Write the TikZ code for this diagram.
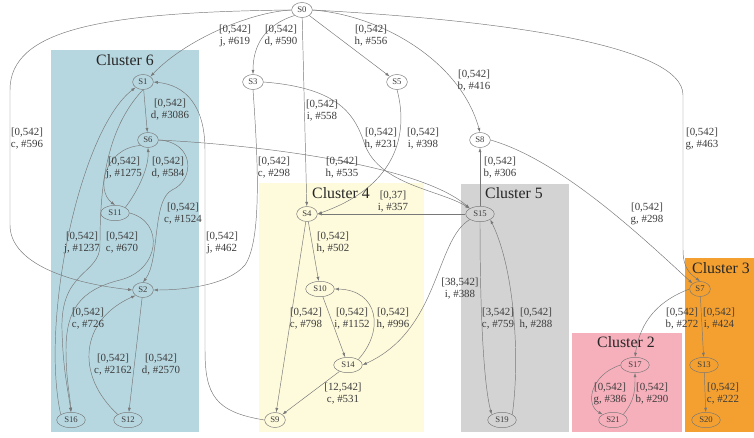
\documentclass[tikz,border=0pt]{standalone}
\usepackage{fontspec}
\setmainfont{Liberation Serif}
\usetikzlibrary{shapes, arrows.meta, positioning}

\definecolor{clblue}{RGB}{183,215,224}
\definecolor{clyellow}{RGB}{254,250,220}
\definecolor{clgray}{RGB}{211,211,211}
\definecolor{clpink}{RGB}{246,176,188}
\definecolor{clorange}{RGB}{244,160,48}
\definecolor{edgegray}{RGB}{120,120,120}
\definecolor{txtgray}{RGB}{60,60,60}

\begin{document}
\begin{tikzpicture}[x=0.3mm, y=-0.3mm, >={Latex[length=1.3mm, width=0.9mm]},
    state/.style={ellipse, draw=edgegray, line width=0.4pt, text=txtgray, inner sep=0pt,
      minimum width=6.2mm, minimum height=4.5mm, font=\fontsize{7.4}{8}\selectfont},
    wide/.style={state, minimum width=8.6mm, minimum height=4.6mm},
    lbl/.style={align=center, text=txtgray, inner sep=0pt, font=\fontsize{9.3}{10.2}\selectfont},
    ctitle/.style={text=black!85, inner sep=0pt, font=\fontsize{13.5}{15}\selectfont},
    conn/.style={->, draw=edgegray, line width=0.4pt}]
    \useasboundingbox (0,0) rectangle (754,437);

    % clusters
    \fill[clblue]   (51,50)   rectangle (199,432);
    \fill[clyellow] (259,183) rectangle (424,432);
    \fill[clgray]   (461,184) rectangle (569,432);
    \fill[clpink]   (572,333) rectangle (682,432);
    \fill[clorange] (685,258) rectangle (754,432);
    \node[ctitle] (cl6) at (125,60)  {Cluster 6};
    \node[ctitle] (cl4) at (341,193) {Cluster 4};
    \node[ctitle] (cl5) at (514,193) {Cluster 5};
    \node[ctitle] (cl2) at (626,342) {Cluster 2};
    \node[ctitle] (cl3) at (721,268) {Cluster 3};

    % states
    \foreach \n/\x/\y in {0/302/10, 1/143/82, 3/253/82, 5/397/82, 8/480/140, 6/148/140,
        2/143/290, 4/307/214, 9/275/420, 7/700/289} {
      \node[state] (s\n) at (\x,\y) {S\n};
    };
    \foreach \n/\x/\y in {11/115/213, 16/71/420, 12/128/420, 15/480/214, 10/320/289,
        14/348/365, 19/502/420, 17/635/365, 13/704/365, 21/613/420, 20/706/420} {
      \node[wide] (s\n) at (\x,\y) {S\n};
    };

    % edges out of S0
    \draw[conn] (s0.west) .. controls (250,12) and (185,40) .. (s1.north east);
    \draw[conn] (s0.south west) .. controls (265,25) and (253,45) .. (s3.north);
    \draw[conn] (s0) -- (s4);
    \draw[conn] (s0) -- (s5);
    \draw[conn] (s0.east) .. controls (380,15) and (460,60) .. (s8.north);
    \draw[conn] (s0.east) .. controls (500,20) and (683,45) .. (683,95) -- (683,250)
      .. controls (683,270) and (692,275) .. (s7.north);
    \draw[conn] (s0.west) .. controls (100,12) and (10,30) .. (10,90) -- (10,225)
      .. controls (10,260) and (60,282) .. (s2.west);

    % cluster 6
    \draw[conn] (s1) -- (s6);
    \draw[conn] (s6.south west) .. controls (105,148) and (95,190) .. (s11.north);
    \draw[conn] (s11.north east) .. controls (135,195) and (149,170) .. (s6.south);
    \draw[conn] (s6.east) .. controls (195,142) and (195,180) .. (172,190)
      .. controls (152,200) and (160,260) .. (s2.north);
    \draw[conn] (s16.north west) .. controls (40,320) and (80,130) .. (s1.south west);
    \draw[conn] (s1.south) .. controls (105,130) and (100,190) .. (100,245)
      .. controls (100,275) and (60,270) .. (62,330) .. controls (63,370) and (68,390) .. (s16.north);
    \draw[conn] (s11.east) .. controls (165,222) and (160,270) .. (120,280)
      .. controls (80,290) and (66,310) .. (66,350) .. controls (66,380) and (70,395) .. (s16.north);
    \draw[conn] (s2) -- (s12);
    \draw[conn] (s12.north west) .. controls (75,375) and (80,320) .. (s2.south west);

    % long edges
    \draw[conn] (s9.west) .. controls (215,412) and (205,395) .. (205,350) -- (205,150)
      .. controls (205,105) and (185,85) .. (s1.east);
    \draw[conn] (s3.south) .. controls (258,160) and (262,240) .. (245,265)
      .. controls (228,285) and (185,290) .. (s2.east);
    \draw[conn] (s6.east) .. controls (260,145) and (420,165) .. (s15.north west);
    \draw[conn] (s3.east) .. controls (340,88) and (355,115) .. (365,145)
      .. controls (380,185) and (440,190) .. (s15.north west);
    \draw[conn] (s5.south) .. controls (408,130) and (400,185) .. (s4.east);
    \draw[conn] (s15) -- (s4);
    \draw[conn] (s15) -- (s8);
    \draw[conn] (s8.east) .. controls (560,160) and (640,235) .. (s7.north west);

    % cluster 4
    \draw[conn] (s4) -- (s10);
    \draw[conn] (s4) -- (s9);
    \draw[conn] (s10) -- (s14);
    \draw[conn] (s14.north east) .. controls (385,330) and (378,290) .. (s10.east);
    \draw[conn] (s14) -- (s9);
    \draw[conn] (s15.south west) .. controls (435,240) and (440,330) .. (s14.east);

    % cluster 5
    \draw[conn] (s15.south) .. controls (480,330) and (485,390) .. (s19.north west);
    \draw[conn] (s19.north east) .. controls (520,360) and (515,270) .. (s15.south east);

    % clusters 3 and 2
    \draw[conn] (s7.west) .. controls (660,300) and (640,320) .. (s17.north);
    \draw[conn] (s7) -- (s13);
    \draw[conn] (s13) -- (s20);
    \draw[conn] (s17.west) .. controls (590,375) and (585,405) .. (s21.north west);
    \draw[conn] (s21.north east) .. controls (635,400) and (635,390) .. (s17.south);

    % edge labels
    \node[lbl] (l-0-1)   at (235,36)  {[0,542]\\j, \#619};
    \node[lbl] (l-0-3)   at (281,36)  {[0,542]\\d, \#590};
    \node[lbl] (l-0-5)   at (371,36)  {[0,542]\\h, \#556};
    \node[lbl] (l-0-4)   at (322,111) {[0,542]\\i, \#558};
    \node[lbl] (l-0-8)   at (474,81)  {[0,542]\\b, \#416};
    \node[lbl] (l-0-7)   at (702,139) {[0,542]\\g, \#463};
    \node[lbl] (l-0-2)   at (27,139)  {[0,542]\\c, \#596};
    \node[lbl] (l-1-6)   at (170,110) {[0,542]\\d, \#3086};
    \node[lbl] (l-3-15)  at (381,139) {[0,542]\\h, \#231};
    \node[lbl] (l-5-4)   at (423,139) {[0,542]\\i, \#398};
    \node[lbl] (l-15-8)  at (500,168) {[0,542]\\b, \#306};
    \node[lbl] (l-6-11)  at (124,168) {[0,542]\\j, \#1275};
    \node[lbl] (l-11-6)  at (168,168) {[0,542]\\d, \#584};
    \node[lbl] (l-6-2)   at (183,214) {[0,542]\\c, \#1524};
    \node[lbl] (l-3-2)   at (274,168) {[0,542]\\c, \#298};
    \node[lbl] (l-6-15)  at (342,168) {[0,542]\\h, \#535};
    \node[lbl] (l-15-4)  at (393,202) {[0,37]\\i, \#357};
    \node[lbl] (l-8-7)   at (647,214) {[0,542]\\g, \#298};
    \node[lbl] (l-16-1)  at (82,243)  {[0,542]\\j, \#1237};
    \node[lbl] (l-1-16)  at (122,243) {[0,542]\\c, \#670};
    \node[lbl] (l-9-1)   at (222,243) {[0,542]\\j, \#462};
    \node[lbl] (l-4-10)  at (333,243) {[0,542]\\h, \#502};
    \node[lbl] (l-15-14) at (460,289) {[38,542]\\i, \#388};
    \node[lbl] (l-11-16) at (88,319)  {[0,542]\\c, \#726};
    \node[lbl] (l-12-2)  at (113,365) {[0,542]\\c, \#2162};
    \node[lbl] (l-2-12)  at (161,365) {[0,542]\\d, \#2570};
    \node[lbl] (l-4-9)   at (306,319) {[0,542]\\c, \#798};
    \node[lbl] (l-10-14) at (352,319) {[0,542]\\i, \#1152};
    \node[lbl] (l-14-10) at (393,319) {[0,542]\\h, \#996};
    \node[lbl] (l-14-9)  at (343,394) {[12,542]\\c, \#531};
    \node[lbl] (l-15-19) at (498,319) {[3,542]\\c, \#759};
    \node[lbl] (l-19-15) at (536,319) {[0,542]\\h, \#288};
    \node[lbl] (l-7-17)  at (682,319) {[0,542]\\b, \#272};
    \node[lbl] (l-7-13)  at (719,319) {[0,542]\\i, \#424};
    \node[lbl] (l-17-21) at (610,394) {[0,542]\\g, \#386};
    \node[lbl] (l-21-17) at (652,394) {[0,542]\\b, \#290};
    \node[lbl] (l-13-20) at (723,394) {[0,542]\\c, \#222};
\end{tikzpicture}
\end{document}
